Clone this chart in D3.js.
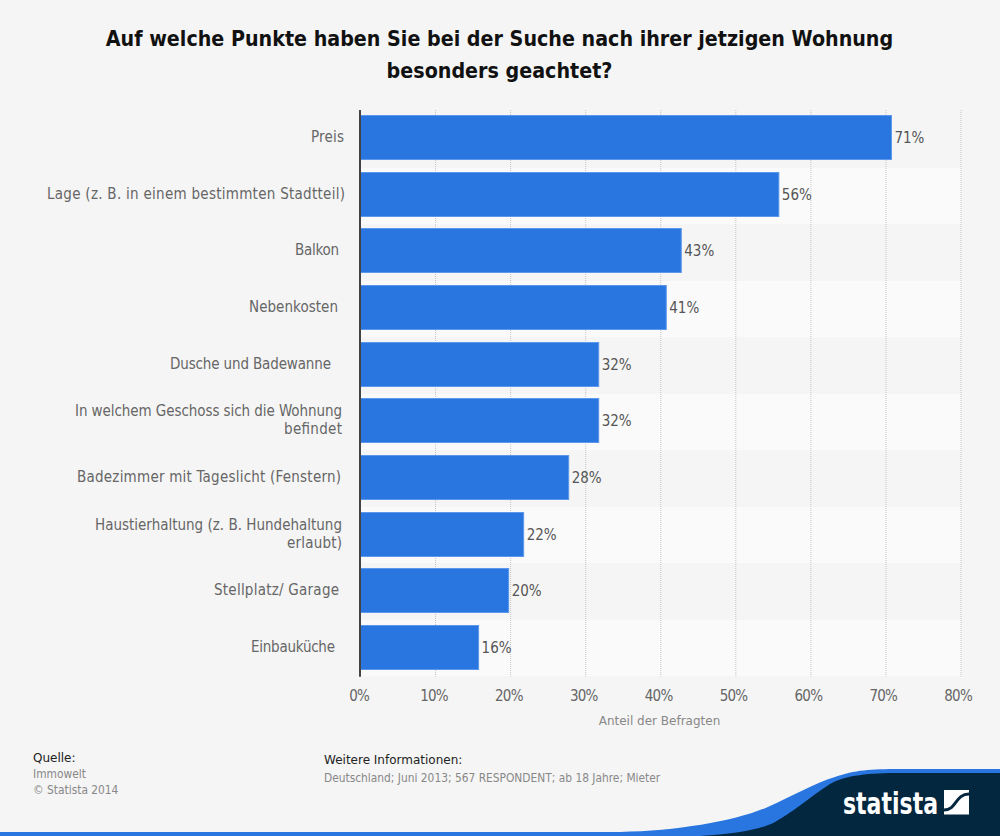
<!DOCTYPE html>
<html>
<head>
<meta charset="utf-8">
<script src="https://cdn.jsdelivr.net/npm/d3@7"></script>
<style>
html, body { margin: 0; padding: 0; background: #f5f5f5; }
svg { display: block; }
text { font-family: "DejaVu Sans Condensed", "DejaVu Sans", sans-serif; }
text.wide { font-family: "DejaVu Sans", sans-serif; }
</style>
</head>
<body>
<svg id="chart" width="1000" height="836"></svg>
<script>
// data
var categories = [
    ["Preis"],
    ["Lage (z. B. in einem bestimmten Stadtteil)"],
    ["Balkon"],
    ["Nebenkosten"],
    ["Dusche und Badewanne"],
    ["In welchem Geschoss sich die Wohnung", "befindet"],
    ["Badezimmer mit Tageslicht (Fenstern)"],
    ["Haustierhaltung (z. B. Hundehaltung", "erlaubt)"],
    ["Stellplatz/ Garage"],
    ["Einbauküche"]
];
var values = [71, 56, 43, 41, 32, 32, 28, 22, 20, 16];
var xTicks = [0, 10, 20, 30, 40, 50, 60, 70, 80];
var titleLines = ["Auf welche Punkte haben Sie bei der Suche nach ihrer jetzigen Wohnung", "besonders geachtet?"];

// label layout, the reference has hinted text so widths differ a bit
var labelRight = [344, 345, 339, 338, 331, 342, 341, 342, 339, 335];
var labelWidths = [[33], [298], [44], [89], [161], [267, 58], [264], [247, 55], [125], [84]];

var svg = d3.select("#chart");
var plotTop = 110, plotBottom = 676.7, plotLeft = 360, plotRight = 961;

var x = d3.scaleLinear().domain([0, 80]).range([plotLeft + 0.5, plotRight]);
var tickX = d3.scaleLinear().domain([0, 80]).range([359.5, 958.5]);
var y = d3.scaleBand().domain(d3.range(categories.length)).range([plotTop, plotBottom]);
var stripeY = d3.scaleBand().domain(d3.range(categories.length)).range([111.5, 676.5]);
var barInset = 5, barH = 45;

function barTop(i) { return Math.round(y(i) + barInset); }

// background stripes
svg.append("rect").attr("width", 1000).attr("height", 836).attr("fill", "#f5f5f5");
svg.selectAll("rect.band").data(d3.range(categories.length)).enter().append("rect")
    .attr("class", "band")
    .attr("x", plotLeft).attr("width", plotRight - plotLeft)
    .attr("y", function(d) { return stripeY(d); })
    .attr("height", stripeY.bandwidth())
    .attr("fill", function(d) { return d % 2 ? "#fafafa" : "#f5f5f5"; });

// grid
svg.selectAll("line.grid").data(xTicks.slice(1)).enter().append("line")
    .attr("class", "grid")
    .attr("x1", function(d) { return x(d); }).attr("x2", function(d) { return x(d); })
    .attr("y1", plotTop).attr("y2", plotBottom)
    .attr("stroke", "#c4c4c4").attr("stroke-width", 1).attr("stroke-dasharray", "1,1");

// bars
svg.selectAll("rect.bar").data(values).enter().append("rect")
    .attr("class", "bar")
    .attr("x", plotLeft)
    .attr("y", function(d, i) { return barTop(i) + 0.5; })
    .attr("width", function(d) { return x(d) - plotLeft - 2; })
    .attr("height", barH - 1)
    .attr("fill", "#2976e0")
    .attr("stroke", "#5b97ea").attr("stroke-width", 1);

// value labels
svg.selectAll("text.val").data(values).enter().append("text")
    .attr("class", "val")
    .attr("x", function(d) { return x(d) + 1; })
    .attr("y", function(d, i) { return barTop(i) + barH / 2 + 5; })
    .attr("font-size", 15).attr("fill", "#555")
    .text(function(d) { return d + "%"; });

// axis line
svg.append("line").attr("x1", plotLeft).attr("x2", plotLeft).attr("y1", plotTop).attr("y2", plotBottom)
    .attr("stroke", "#444").attr("stroke-width", 2);

// category labels
categories.forEach(function(lines, i) {
    var cy = barTop(i) + barH / 2;
    lines.forEach(function(l, j) {
        svg.append("text")
            .attr("text-anchor", "end").attr("font-size", 15).attr("fill", "#666")
            .attr("x", labelRight[i])
            .attr("y", cy + 4 + (j - (lines.length - 1) / 2) * 18)
            .attr("textLength", labelWidths[i][j])
            .text(l);
    });
});

// x axis labels
svg.selectAll("text.tick").data(xTicks).enter().append("text")
    .attr("class", "tick")
    .attr("x", function(d) { return tickX(d); })
    .attr("y", 701)
    .attr("text-anchor", "middle").attr("font-size", 15).attr("fill", "#666")
    .attr("textLength", function(d) { return d === 0 ? 20.5 : 28.5; })
    .text(function(d) { return d + "%"; });

svg.append("text").attr("class", "wide").attr("x", 659.5).attr("y", 725).attr("text-anchor", "middle")
    .attr("font-size", 12).attr("fill", "#888")
    .text("Anteil der Befragten");

// title
titleLines.forEach(function(l, i) {
    svg.append("text").attr("x", 499.5).attr("y", 46 + i * 32).attr("text-anchor", "middle")
        .attr("font-size", 21.25).attr("font-weight", "bold").attr("fill", "#111")
        .text(l);
});

// footer
function foot(xp, yp, txt, col, cls) {
    svg.append("text").attr("class", cls).attr("x", xp).attr("y", yp).attr("font-size", cls ? 12 : 11.85)
        .attr("fill", col).text(txt);
}
foot(33, 762, "Quelle:", "#222", "wide");
foot(33, 778, "Immowelt", "#888");
foot(33, 794, "© Statista 2014", "#888");
foot(324, 764, "Weitere Informationen:", "#222", "wide");
foot(324, 782, "Deutschland; Juni 2013; 567 RESPONDENT; ab 18 Jahre; Mieter", "#888");

// bottom swoosh + logo
svg.append("path")
    .attr("d", "M0,832 L620,832 C680,831 740,820 770,806 C790,797 815,783 835,777 C855,770 870,769 900,769 L1000,769 L1000,836 L0,836 Z")
    .attr("fill", "#2976e0");
svg.append("path")
    .attr("d", "M700,836 C735,834 760,830 775,822 C790,814 810,797 830,784 C845,775 870,773 900,773 L1000,773 L1000,836 Z")
    .attr("fill", "#03273f");
svg.append("text").attr("x", 843).attr("y", 814).attr("font-size", 31).attr("font-weight", "bold")
    .attr("textLength", 95).attr("lengthAdjust", "spacingAndGlyphs")
    .attr("fill", "#fff").text("statista");
svg.append("rect").attr("x", 944).attr("y", 790).attr("width", 25).attr("height", 24.5).attr("fill", "#fff");
svg.append("path")
    .attr("d", "M944,810 C957,810 955,794 969,794")
    .attr("fill", "none").attr("stroke", "#03273f").attr("stroke-width", 3);
</script>
</body>
</html>
